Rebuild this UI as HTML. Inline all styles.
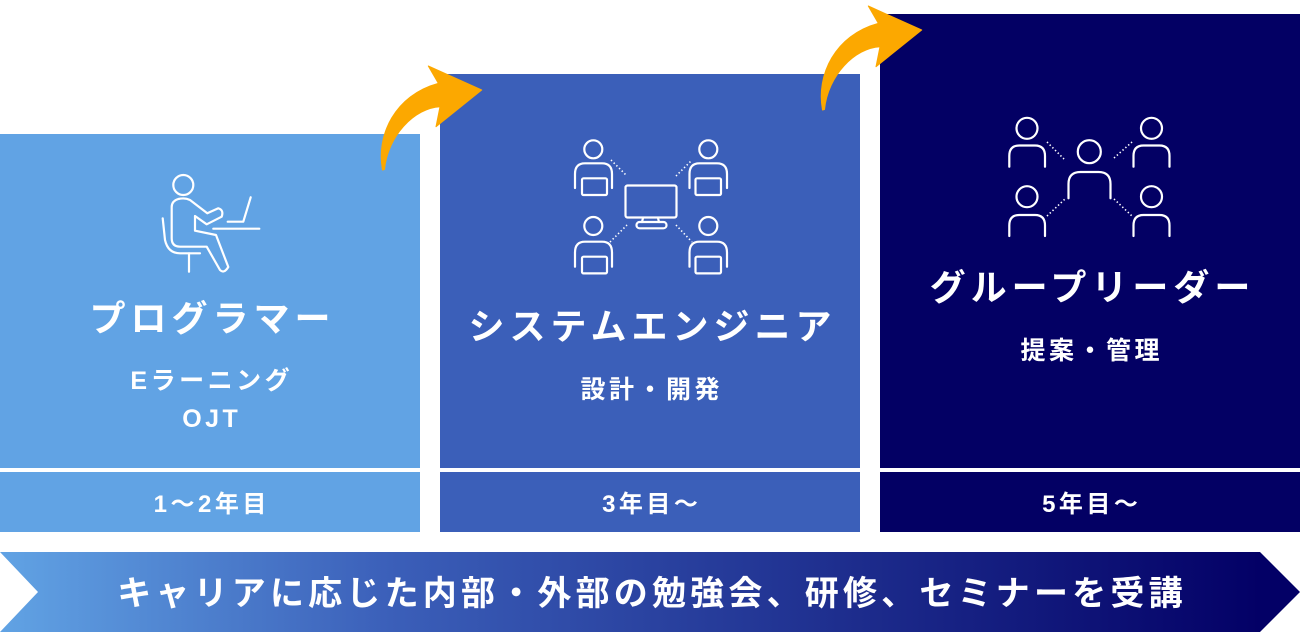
<!DOCTYPE html>
<html><head><meta charset="utf-8">
<style>
html,body{margin:0;padding:0;background:#fff;}
#wrap{position:relative;width:1300px;height:632px;overflow:hidden;background:#fff;}
svg{position:absolute;left:0;top:0;}
.t{position:absolute;color:#fff;text-align:center;white-space:nowrap;font-family:"Liberation Sans","Noto Sans CJK JP",sans-serif;}
.title{font-size:36px;font-weight:700;letter-spacing:5px;padding-left:5px;box-sizing:border-box;height:44px;line-height:44px;}
.sub{font-size:25px;font-weight:700;letter-spacing:3.5px;padding-left:3.5px;box-sizing:border-box;height:32px;line-height:32px;}
.year{font-size:24px;font-weight:700;letter-spacing:3.5px;padding-left:3.5px;box-sizing:border-box;height:30px;line-height:30px;}
.banner{font-size:34px;font-weight:700;letter-spacing:4.2px;padding-left:4px;box-sizing:border-box;height:44px;line-height:44px;}
</style></head>
<body><div id="wrap">
<svg width="1300" height="632" viewBox="0 0 1300 632" xmlns="http://www.w3.org/2000/svg">
<defs>
<linearGradient id="bg" x1="0" y1="0" x2="1300" y2="0" gradientUnits="userSpaceOnUse">
<stop offset="0" stop-color="#61a3e4"/>
<stop offset="0.30" stop-color="#3b5fb9"/>
<stop offset="0.97" stop-color="#030066"/>
</linearGradient>
</defs>
<!-- boxes -->
<rect x="0" y="134" width="420" height="334" fill="#61a3e4"/>
<rect x="0" y="472" width="420" height="60" fill="#61a3e4"/>
<rect x="440" y="74" width="420" height="394" fill="#3b5fb9"/>
<rect x="440" y="472" width="420" height="60" fill="#3b5fb9"/>
<rect x="880" y="14" width="420" height="454" fill="#030064"/>
<rect x="880" y="472" width="420" height="60" fill="#030064"/>
<!-- banner -->
<polygon points="0,552 1260,552 1300,592 1260,632 0,632 38,592" fill="url(#bg)"/>
<!-- arrows -->
<path d="M382.5 170 C376 135 395 95 438.3 83.3 L428.3 66 L481.7 90 L436 126.7 L440 106.7 C415 108 388 135 384.5 169.5 Z" fill="#fca800" stroke="#fca800" stroke-width="1" stroke-linejoin="round"/>
<path transform="translate(440,-60)" d="M382.5 170 C376 135 395 95 438.3 83.3 L428.3 66 L481.7 90 L436 126.7 L440 106.7 C415 108 388 135 384.5 169.5 Z" fill="#fca800" stroke="#fca800" stroke-width="1" stroke-linejoin="round"/>

<!-- icon 1 programmer -->
<g fill="none" stroke="#fff" stroke-width="2.2" stroke-linecap="round" stroke-linejoin="round">
<circle cx="183.3" cy="185" r="10"/>
<path d="M171.7 207 V238.3 Q171.7 246.7 180 246.7 H206.7 L220 270 Q224 274 228.3 267 L216 235 L195 230.7 V216 L206.7 224.3 L221.7 216.7 Q224 210 218.3 208.3 L207.3 213.3 L190 200 Q185 197.5 178.3 199 Q171.7 201 171.7 207 Z"/>
<path d="M162.7 218.3 L165 240 Q168 253.3 180 253.3 H200"/>
<path d="M189 253.3 V271.7"/>
<path d="M213.3 228.7 H259.3"/>
<path d="M250.7 197.3 L243.3 221.7 H227.7"/>
</g>

<!-- icon 2 system engineer -->
<g fill="none" stroke="#fff" stroke-width="2.2" stroke-linecap="round" stroke-linejoin="round">
<circle cx="593.3" cy="149.3" r="9"/>
<path d="M575 188 V174 Q575 163.3 585 163.3 H602 Q612 163.3 612 174 V188"/>
<rect x="582" y="178.3" width="25" height="16.7" rx="1.5"/>
<circle cx="708.3" cy="149.3" r="9"/>
<path d="M689.5 188 V174 Q689.5 163.3 699.5 163.3 H717 Q727 163.3 727 174 V188"/>
<rect x="695.5" y="178.3" width="25.5" height="16.7" rx="1.5"/>
<circle cx="593.3" cy="226" r="9"/>
<path d="M575 266.7 V252.5 Q575 241.7 585 241.7 H602 Q612 241.7 612 252.5 V266.7"/>
<rect x="582" y="256.7" width="25" height="16.7" rx="1.5"/>
<circle cx="708.3" cy="226" r="9"/>
<path d="M689.5 266.7 V252.5 Q689.5 241.7 699.5 241.7 H717 Q727 241.7 727 252.5 V266.7"/>
<rect x="695.5" y="256.7" width="25.5" height="16.7" rx="1.5"/>
<rect x="625.5" y="185.5" width="51" height="32" rx="2"/>
<path d="M643 218 L642 222 M658 218 L659 222"/>
<rect x="636.5" y="222" width="30" height="6.3" rx="3.1"/>
</g>
<g fill="none" stroke="#fff" stroke-width="1.6" stroke-dasharray="1.4 2.4">
<path d="M611 160 L627 176"/>
<path d="M676 176 L692 160"/>
<path d="M610 242 L627 225"/>
<path d="M676 225 L692 242"/>
</g>

<!-- icon 3 group leader -->
<g fill="none" stroke="#fff" stroke-width="2.2" stroke-linecap="round" stroke-linejoin="round">
<circle cx="1027" cy="128.3" r="10.5"/>
<path d="M1009.3 166.7 V156 Q1009.3 145.5 1019.5 145.5 H1035 Q1045 145.5 1045 156 V166.7"/>
<circle cx="1151.5" cy="128.3" r="10.5"/>
<path d="M1133.5 166.7 V156 Q1133.5 145.5 1143.5 145.5 H1159.5 Q1169.5 145.5 1169.5 156 V166.7"/>
<circle cx="1027" cy="196.7" r="10.5"/>
<path d="M1009.3 236 V225.5 Q1009.3 215 1019.5 215 H1035 Q1045 215 1045 225.5 V236"/>
<circle cx="1151.5" cy="196.7" r="10.5"/>
<path d="M1133.5 236 V225.5 Q1133.5 215 1143.5 215 H1159.5 Q1169.5 215 1169.5 225.5 V236"/>
<circle cx="1089.3" cy="151.7" r="11.5"/>
<path d="M1068.5 198.3 V184 Q1068.5 172 1080.5 172 H1098.5 Q1110.5 172 1110.5 184 V198.3"/>
</g>
<g fill="none" stroke="#fff" stroke-width="1.6" stroke-dasharray="1.4 2.4">
<path d="M1047 142 L1064 159"/>
<path d="M1114 158 L1132 142"/>
<path d="M1047 216 L1065 199"/>
<path d="M1114 199 L1132 216"/>
</g>
</svg>

<!-- box1 text -->
<div class="t title" style="left:0;width:420px;top:297px;">プログラマー</div>
<div class="t sub" style="left:0;width:420px;top:365px;">Eラーニング</div>
<div class="t sub" style="left:0;width:420px;top:403px;">OJT</div>
<div class="t year" style="left:0;width:420px;top:490px;">1～2年目</div>

<!-- box2 text -->
<div class="t title" style="left:440px;width:420px;top:305px;">システムエンジニア</div>
<div class="t sub" style="left:440px;width:420px;top:374px;">設計・開発</div>
<div class="t year" style="left:440px;width:420px;top:490px;">3年目～</div>

<!-- box3 text -->
<div class="t title" style="left:880px;width:420px;top:266px;">グループリーダー</div>
<div class="t sub" style="left:880px;width:420px;top:335px;">提案・管理</div>
<div class="t year" style="left:880px;width:420px;top:490px;">5年目～</div>

<!-- banner text -->
<div class="t banner" style="left:0;width:1300px;top:572px;">キャリアに応じた内部・外部の勉強会、研修、セミナーを受講</div>
</div></body></html>
